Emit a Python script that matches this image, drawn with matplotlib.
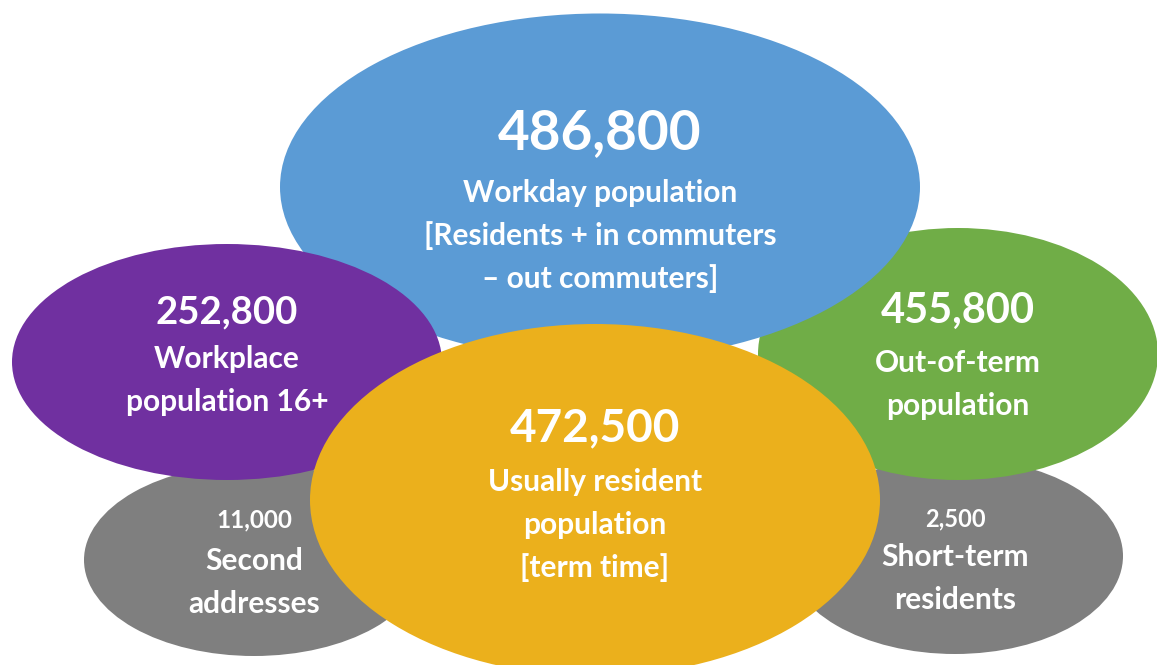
import matplotlib.pyplot as plt
from matplotlib.patches import Ellipse

# values and labels
values = [11000, 2500, 455800, 486800, 252800, 472500]
labels = ["Second\naddresses", "Short-term\nresidents", "Out-of-term\npopulation",
          "Workday population\n[Residents + in commuters\n\u2013 out commuters]",
          "Workplace\npopulation 16+", "Usually resident\npopulation\n[term time]"]
colors = ["#7f7f7f", "#7f7f7f", "#70ad47", "#5b9bd5", "#7030a0", "#ebb01c"]

# ellipse layout in pixel coords (cx, cy, w, h), drawing order back to front
centers = [(254, 560), (955, 556), (958, 354), (600, 187), (227, 362), (595, 500)]
sizes = [(340, 192), (336, 196), (400, 252), (640, 347), (430, 236), (570, 352)]
num_y = [520, 519, 311, 133, 312, 428]
lab_y = [561, 557, 363, 193, 359, 482]
num_size = [17.5, 17, 30, 39.5, 27.5, 33]
lab_size = [21.5, 21.5, 21.5, 21.5, 21.5, 21.5]
line_gap = 43

plt.rcParams['font.family'] = ['Lato', 'DejaVu Sans']

fig = plt.figure(figsize=(11.57, 6.65), dpi=100)
ax = fig.add_axes([0, 0, 1, 1])
ax.set_xlim(0, 1157)
ax.set_ylim(665, 0)
ax.axis('off')

for i in range(len(values)):
    cx, cy = centers[i]
    w, h = sizes[i]
    ax.add_patch(Ellipse((cx, cy), w, h, facecolor=colors[i], edgecolor='none', zorder=i))
    ax.text(cx, num_y[i], f"{values[i]:,}", color='white', fontsize=num_size[i],
            fontweight='bold', ha='center', va='center', zorder=i + 0.5)
    for k, line in enumerate(labels[i].split("\n")):
        ax.text(cx, lab_y[i] + k * line_gap, line, color='white', fontsize=lab_size[i],
                fontweight='bold', ha='center', va='center', zorder=i + 0.5)

fig.savefig("out.png", dpi=100)
